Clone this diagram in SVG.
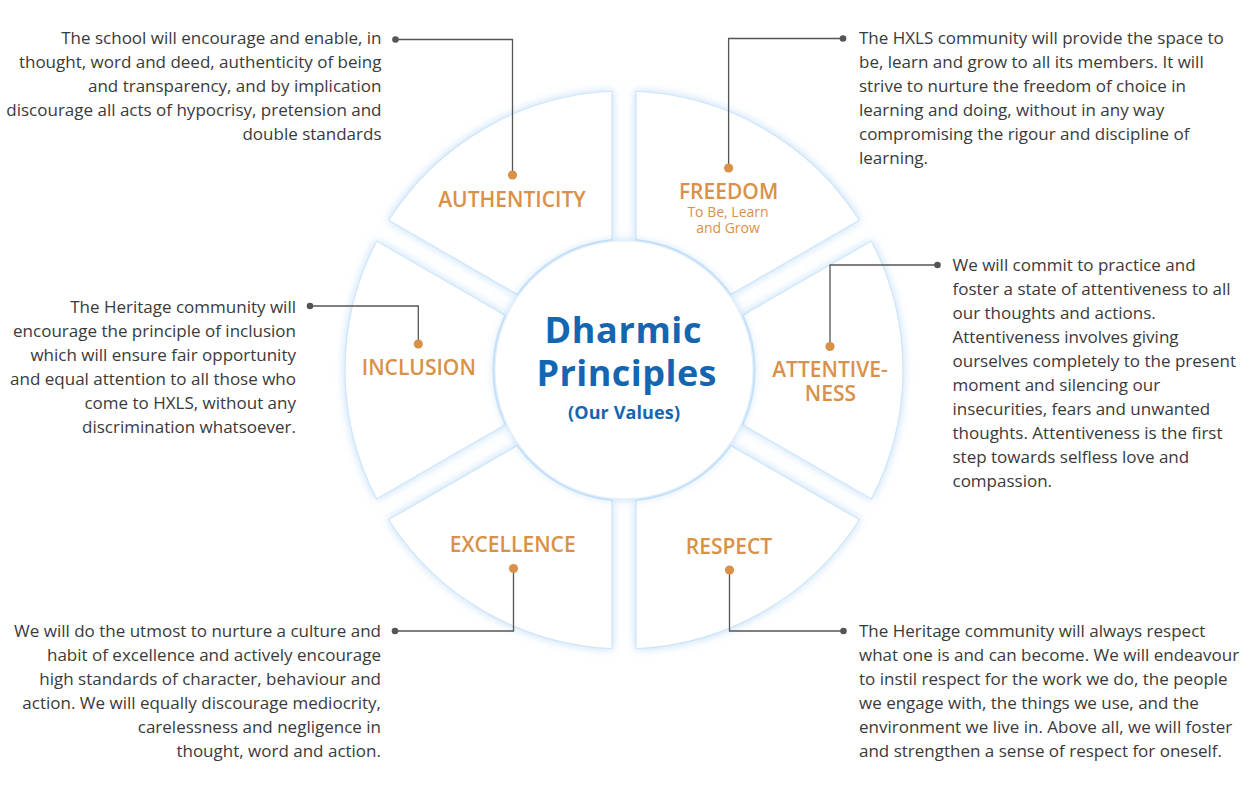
<svg xmlns="http://www.w3.org/2000/svg" width="1249" height="793" viewBox="0 0 1249 793">
<defs>
<filter id="glow" x="-20%" y="-20%" width="140%" height="140%">
<feDropShadow dx="0" dy="0" stdDeviation="5" flood-color="#8fc2f2" flood-opacity="0.55"/>
</filter>
</defs>
<style>
.seg{fill:#ffffff;stroke:#cde5fb;stroke-width:1.2;filter:url(#glow)}
.hub{fill:#ffffff;stroke:#e2effc;stroke-width:1;filter:url(#glow)}
.lbl{font-family:"Open Sans","Noto Sans",sans-serif;font-weight:600;font-size:21px;fill:#d99148;text-anchor:middle}
.sub{font-weight:400;font-size:14px}
.body{font-family:"Open Sans","Noto Sans",sans-serif;font-size:17px;fill:#3a3a3a}
.end{text-anchor:end}
.title{font-family:"Open Sans","Noto Sans",sans-serif;font-weight:700;fill:#1565b0;text-anchor:middle}
.wire{fill:none;stroke:#555555;stroke-width:1.3}
.gd{fill:#555555}
.od{fill:#d99148}
</style>
<rect width="1249" height="793" fill="#ffffff"/>
<g id="ring">
<path id="seg-freedom" class="seg" d="M859.40,220.24 A279 279 0 0 0 636.00,91.26 L636.00,239.55 A131 131 0 0 1 730.97,294.38 Z"/>
<path id="seg-authenticity" class="seg" d="M612.00,91.26 A279 279 0 0 0 388.60,220.24 L517.03,294.38 A131 131 0 0 1 612.00,239.55 Z"/>
<path id="seg-inclusion" class="seg" d="M376.60,241.02 A279 279 0 0 0 376.60,498.98 L505.03,424.84 A131 131 0 0 1 505.03,315.16 Z"/>
<path id="seg-excellence" class="seg" d="M388.60,519.76 A279 279 0 0 0 612.00,648.74 L612.00,500.45 A131 131 0 0 1 517.03,445.62 Z"/>
<path id="seg-respect" class="seg" d="M636.00,648.74 A279 279 0 0 0 859.40,519.76 L730.97,445.62 A131 131 0 0 1 636.00,500.45 Z"/>
<path id="seg-attentiveness" class="seg" d="M871.40,498.98 A279 279 0 0 0 871.40,241.02 L742.97,315.16 A131 131 0 0 1 742.97,424.84 Z"/>
</g>
<g id="center">
<circle class="hub" cx="624" cy="370" r="129"/>
<text class="title" x="623" y="342.5" font-size="36" textLength="157">Dharmic</text>
<text class="title" x="626.5" y="386" font-size="36" textLength="180">Principles</text>
<text class="title" x="624" y="418.5" font-size="18" font-weight="600" textLength="112">(Our Values)</text>
</g>
<g id="connectors">
<path class="wire" d="M395.5,39.5 H512.5 V175"/>
<path class="wire" d="M843,38.5 H728.6 V168"/>
<path class="wire" d="M310,306 H418.3 V344"/>
<path class="wire" d="M937.5,265 H830 V346.5"/>
<path class="wire" d="M513.5,568.5 V631 H395"/>
<path class="wire" d="M729.5,570 V631 H843.5"/>
<circle class="gd" cx="395.5" cy="39.5" r="3.3"/>
<circle class="gd" cx="843" cy="38.5" r="3.3"/>
<circle class="gd" cx="310" cy="306" r="3.3"/>
<circle class="gd" cx="937.5" cy="265" r="3.3"/>
<circle class="gd" cx="395" cy="631" r="3.3"/>
<circle class="gd" cx="843.5" cy="631" r="3.3"/>
</g>
<g id="node-authenticity">
<circle class="od" cx="512.5" cy="175" r="4.6"/>
<text class="lbl" x="512" y="206.5">AUTHENTICITY</text>
<text class="body end" x="381.5" y="44"><tspan x="381.5">The school will encourage and enable, in</tspan><tspan x="381.5" dy="24">thought, word and deed, authenticity of being</tspan><tspan x="381.5" dy="24">and transparency, and by implication</tspan><tspan x="381.5" dy="24">discourage all acts of hypocrisy, pretension and</tspan><tspan x="381.5" dy="24">double standards</tspan></text>
</g>
<g id="node-freedom">
<circle class="od" cx="728.6" cy="168" r="4.6"/>
<text class="lbl" x="728.6" y="199"><tspan x="728.6">FREEDOM</tspan><tspan class="sub" x="728" y="216.5">To Be, Learn</tspan><tspan class="sub" x="728" y="233">and Grow</tspan></text>
<text class="body" x="859" y="44"><tspan x="859">The HXLS community will provide the space to</tspan><tspan x="859" dy="24">be, learn and grow to all its members. It will</tspan><tspan x="859" dy="24">strive to nurture the freedom of choice in</tspan><tspan x="859" dy="24">learning and doing, without in any way</tspan><tspan x="859" dy="24">compromising the rigour and discipline of</tspan><tspan x="859" dy="24">learning.</tspan></text>
</g>
<g id="node-inclusion">
<circle class="od" cx="418.3" cy="344" r="4.6"/>
<text class="lbl" x="418.8" y="375">INCLUSION</text>
<text class="body end" x="296" y="312.7"><tspan x="296">The Heritage community will</tspan><tspan x="296" dy="24">encourage the principle of inclusion</tspan><tspan x="296" dy="24">which will ensure fair opportunity</tspan><tspan x="296" dy="24">and equal attention to all those who</tspan><tspan x="296" dy="24">come to HXLS, without any</tspan><tspan x="296" dy="24">discrimination whatsoever.</tspan></text>
</g>
<g id="node-attentiveness">
<circle class="od" cx="830" cy="346.5" r="4.6"/>
<text class="lbl" x="830" y="377.3"><tspan x="830">ATTENTIVE-</tspan><tspan x="830.5" y="400.7">NESS</tspan></text>
<text class="body" x="952.5" y="270.7"><tspan x="952.5">We will commit to practice and</tspan><tspan x="952.5" dy="24">foster a state of attentiveness to all</tspan><tspan x="952.5" dy="24">our thoughts and actions.</tspan><tspan x="952.5" dy="24">Attentiveness involves giving</tspan><tspan x="952.5" dy="24">ourselves completely to the present</tspan><tspan x="952.5" dy="24">moment and silencing our</tspan><tspan x="952.5" dy="24">insecurities, fears and unwanted</tspan><tspan x="952.5" dy="24">thoughts. Attentiveness is the first</tspan><tspan x="952.5" dy="24">step towards selfless love and</tspan><tspan x="952.5" dy="24">compassion.</tspan></text>
</g>
<g id="node-excellence">
<circle class="od" cx="513.5" cy="568.5" r="4.6"/>
<text class="lbl" x="512.7" y="551.7">EXCELLENCE</text>
<text class="body end" x="381" y="636.7"><tspan x="381">We will do the utmost to nurture a culture and</tspan><tspan x="381" dy="24">habit of excellence and actively encourage</tspan><tspan x="381" dy="24">high standards of character, behaviour and</tspan><tspan x="381" dy="24">action. We will equally discourage mediocrity,</tspan><tspan x="381" dy="24">carelessness and negligence in</tspan><tspan x="381" dy="24">thought, word and action.</tspan></text>
</g>
<g id="node-respect">
<circle class="od" cx="729.5" cy="570" r="4.6"/>
<text class="lbl" x="729" y="554">RESPECT</text>
<text class="body" x="859" y="636.7"><tspan x="859">The Heritage community will always respect</tspan><tspan x="859" dy="24">what one is and can become. We will endeavour</tspan><tspan x="859" dy="24">to instil respect for the work we do, the people</tspan><tspan x="859" dy="24">we engage with, the things we use, and the</tspan><tspan x="859" dy="24">environment we live in. Above all, we will foster</tspan><tspan x="859" dy="24">and strengthen a sense of respect for oneself.</tspan></text>
</g>
</svg>
